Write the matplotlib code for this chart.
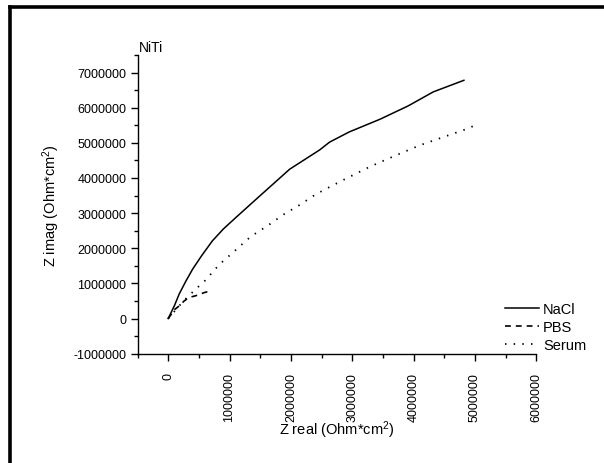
import matplotlib
matplotlib.use("Agg")
import matplotlib.pyplot as plt
from matplotlib.lines import Line2D
from matplotlib.ticker import MultipleLocator

plt.rcParams['font.family'] = ['Liberation Sans', 'DejaVu Sans']
plt.rcParams['mathtext.default'] = 'regular'

# Nyquist data (Ohm*cm^2)
nacl_re = [0, 0.1e6, 0.18e6, 0.29e6, 0.40e6, 0.55e6, 0.72e6, 0.90e6, 1.10e6,
           1.43e6, 1.98e6, 2.47e6, 2.63e6, 2.95e6, 3.45e6, 3.91e6, 4.32e6, 4.82e6]
nacl_im = [0, 0.36e6, 0.70e6, 1.07e6, 1.41e6, 1.80e6, 2.21e6, 2.55e6, 2.87e6,
           3.39e6, 4.25e6, 4.80e6, 5.02e6, 5.31e6, 5.67e6, 6.05e6, 6.45e6, 6.78e6]

pbs_re = [0, 0.05e6, 0.10e6, 0.18e6, 0.26e6, 0.34e6, 0.45e6, 0.59e6, 0.70e6]
pbs_im = [0, 0.12e6, 0.25e6, 0.36e6, 0.50e6, 0.60e6, 0.65e6, 0.74e6, 0.79e6]

serum_re = [0, 0.10e6, 0.25e6, 0.45e6, 0.59e6, 0.83e6, 1.10e6, 1.35e6, 1.62e6,
            1.87e6, 2.14e6, 2.41e6, 2.66e6, 2.93e6, 3.31e6, 3.72e6, 4.10e6,
            4.51e6, 4.89e6, 5.01e6]
serum_im = [0, 0.20e6, 0.50e6, 0.84e6, 1.06e6, 1.53e6, 1.95e6, 2.34e6, 2.64e6,
            2.95e6, 3.23e6, 3.54e6, 3.77e6, 4.01e6, 4.34e6, 4.65e6, 4.93e6,
            5.18e6, 5.41e6, 5.51e6]

x_ticks = [0, 1000000, 2000000, 3000000, 4000000, 5000000, 6000000]
y_ticks = [-1000000, 0, 1000000, 2000000, 3000000, 4000000, 5000000, 6000000, 7000000]

fig = plt.figure(figsize=(6.04, 4.64), dpi=100)
ax = fig.add_axes([137.5 / 604, 1 - 354.7 / 464, 398.8 / 604, 298.7 / 464])

ax.plot(nacl_re, nacl_im, color='black', lw=1.1, ls='-', label='NaCl')
ax.plot(pbs_re, pbs_im, color='black', lw=1.2, ls=(0, (3.5, 3)), label='PBS')
ax.plot(serum_re, serum_im, color='black', lw=1.3, ls=(0, (0.8, 4)), label='Serum')

ax.set_xlim(-500000, 6000000)
ax.set_ylim(-1000000, 7500000)
ax.set_xticks(x_ticks)
ax.set_yticks(y_ticks)
ax.set_xticklabels([str(t) for t in x_ticks], rotation=90)
ax.set_yticklabels([str(t) for t in y_ticks])
ax.xaxis.set_minor_locator(MultipleLocator(500000))
ax.yaxis.set_minor_locator(MultipleLocator(500000))
ax.tick_params(which='major', length=5, width=1, labelsize=9)
ax.tick_params(which='minor', length=3, width=1)
ax.tick_params(axis='x', which='major', pad=8)
ax.tick_params(axis='y', which='major', pad=3)

for s in ['top', 'right']:
    ax.spines[s].set_visible(False)
for s in ['left', 'bottom']:
    ax.spines[s].set_linewidth(1)

ax.set_xlabel('Z real (Ohm*cm$^2$)', fontsize=10.5)
ax.set_ylabel('Z imag (Ohm*cm$^2$)', fontsize=10.5)
ax.xaxis.set_label_coords(0.5, -0.215)
ax.yaxis.set_label_coords(-0.19, 0.5)

fig.text(139 / 604, 1 - 52 / 464, 'NiTi', fontsize=10, ha='left', va='baseline')

ax.legend(loc='upper left', bbox_to_anchor=(505 / 604, 1 - 303 / 464),
          bbox_transform=fig.transFigure, frameon=False, fontsize=10.5,
          handlelength=2.3, handletextpad=0.3, labelspacing=0.28,
          borderpad=0, borderaxespad=0)

# page frame
fig.add_artist(Line2D([10 / 604, 1.0], [1 - 7.5 / 464, 1 - 7.5 / 464],
                      transform=fig.transFigure, color='black', lw=2.6))
fig.add_artist(Line2D([10 / 604, 10 / 604], [0, 1 - 7.5 / 464],
                      transform=fig.transFigure, color='black', lw=2.6,
                      solid_capstyle='projecting'))

fig.savefig('out.png', dpi=100)
